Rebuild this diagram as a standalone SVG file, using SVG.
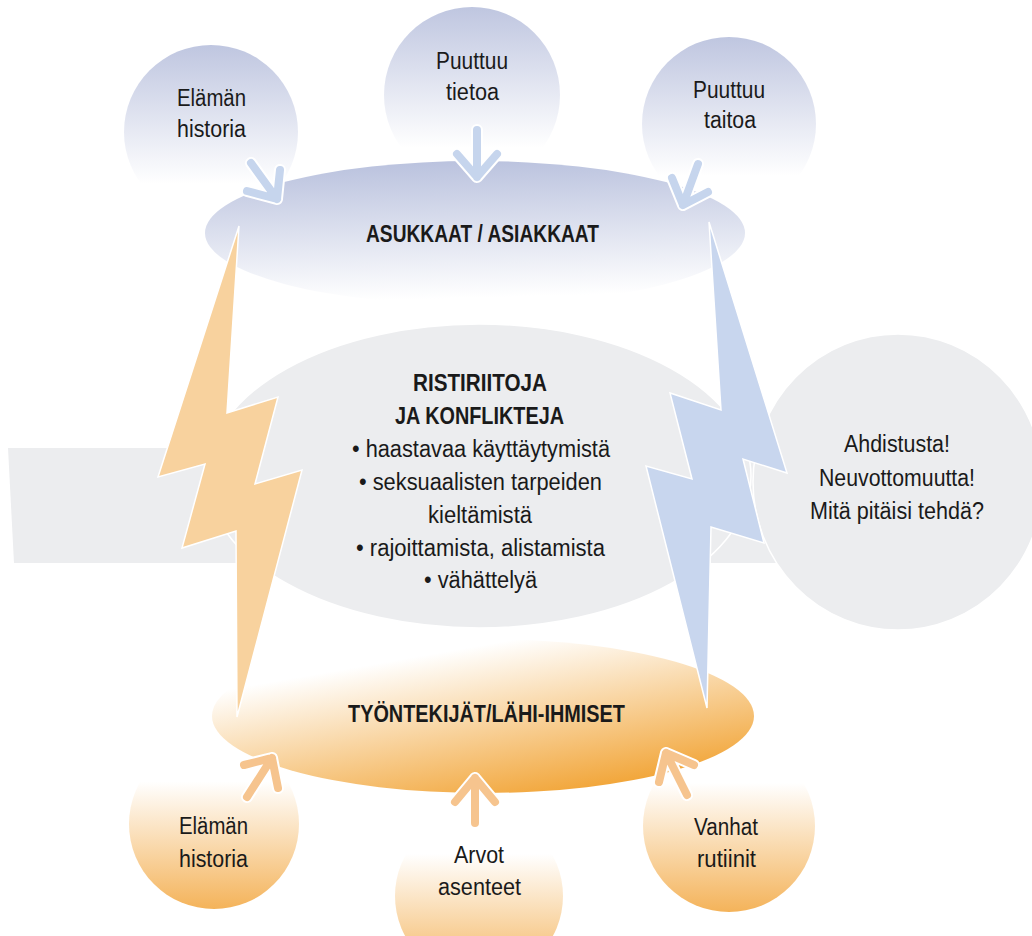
<svg xmlns="http://www.w3.org/2000/svg" width="1032" height="936" viewBox="0 0 1032 936">
<defs>
<linearGradient id="gTopCircle" x1="0" y1="0" x2="0" y2="1">
<stop offset="0" stop-color="#bfc6e0"/><stop offset="0.8" stop-color="#ffffff"/>
</linearGradient>
<linearGradient id="gTopEll" x1="0.4" y1="0" x2="0.5" y2="1">
<stop offset="0" stop-color="#bac2de"/><stop offset="0.95" stop-color="#ffffff"/>
</linearGradient>
<linearGradient id="gBotEll" x1="0.2" y1="0.1" x2="0.75" y2="1">
<stop offset="0.1" stop-color="#ffffff"/><stop offset="1" stop-color="#f1a12f"/>
</linearGradient>
<linearGradient id="gBotCircle" x1="0" y1="0" x2="0" y2="1">
<stop offset="0.25" stop-color="#ffffff"/><stop offset="1" stop-color="#f4b35a"/>
</linearGradient>
</defs>
<style>
.t{font-family:"Liberation Sans",Arial,sans-serif;font-size:23px;fill:#1a1a1a;text-anchor:start}
.b{font-weight:bold}
.grey{fill:#ecedef;stroke:#ffffff;stroke-width:1.5}
.aw{fill:none;stroke:#ffffff;stroke-width:12;stroke-linecap:round;stroke-linejoin:round}
.ab{fill:none;stroke:#c6d5ed;stroke-width:8;stroke-linecap:round;stroke-linejoin:round}
.ao{fill:none;stroke:#f6c48e;stroke-width:8;stroke-linecap:round;stroke-linejoin:round}
</style>

<g id="band">
<polygon points="8,448 790,448 790,563 14,563" fill="#ecedef"/>
</g>

<g id="top-circle-1">
<circle cx="211" cy="132" r="87" fill="url(#gTopCircle)"/>
<text class="t" x="177" y="106" textLength="69" lengthAdjust="spacingAndGlyphs">Elämän</text>
<text class="t" x="177" y="137" textLength="69" lengthAdjust="spacingAndGlyphs">historia</text>
</g>
<g id="top-circle-2">
<circle cx="472" cy="95" r="88" fill="url(#gTopCircle)"/>
<text class="t" x="436" y="69" textLength="72" lengthAdjust="spacingAndGlyphs">Puuttuu</text>
<text class="t" x="446" y="100" textLength="53" lengthAdjust="spacingAndGlyphs">tietoa</text>
</g>
<g id="top-circle-3">
<circle cx="729" cy="124" r="87" fill="url(#gTopCircle)"/>
<text class="t" x="693" y="98" textLength="72" lengthAdjust="spacingAndGlyphs">Puuttuu</text>
<text class="t" x="704" y="128" textLength="52" lengthAdjust="spacingAndGlyphs">taitoa</text>
</g>

<g id="asukkaat">
<ellipse cx="475" cy="233" rx="270" ry="72" fill="url(#gTopEll)"/>
<text class="t b" x="366" y="242" textLength="233" lengthAdjust="spacingAndGlyphs">ASUKKAAT / ASIAKKAAT</text>
</g>

<g id="ristiriitoja">
<ellipse cx="479" cy="476" rx="272" ry="152" class="grey"/>
<text class="t b" x="413" y="391" textLength="134" lengthAdjust="spacingAndGlyphs">RISTIRIITOJA</text>
<text class="t b" x="395" y="424" textLength="169" lengthAdjust="spacingAndGlyphs">JA KONFLIKTEJA</text>
<text class="t" x="352" y="457" textLength="258" lengthAdjust="spacingAndGlyphs">• haastavaa käyttäytymistä</text>
<text class="t" x="359" y="490" textLength="243" lengthAdjust="spacingAndGlyphs">• seksuaalisten tarpeiden</text>
<text class="t" x="428" y="523" textLength="104" lengthAdjust="spacingAndGlyphs">kieltämistä</text>
<text class="t" x="356" y="556" textLength="249" lengthAdjust="spacingAndGlyphs">• rajoittamista, alistamista</text>
<text class="t" x="424" y="588" textLength="113" lengthAdjust="spacingAndGlyphs">• vähättelyä</text>
</g>

<g id="ahdistusta">
<ellipse cx="898" cy="482" rx="145" ry="148" class="grey"/>
<text class="t" x="844" y="452" textLength="106" lengthAdjust="spacingAndGlyphs">Ahdistusta!</text>
<text class="t" x="819" y="486" textLength="156" lengthAdjust="spacingAndGlyphs">Neuvottomuutta!</text>
<text class="t" x="810" y="519" textLength="174" lengthAdjust="spacingAndGlyphs">Mitä pitäisi tehdä?</text>
</g>

<g id="bottom-circle-1">
<circle cx="214" cy="824" r="85" fill="url(#gBotCircle)"/>
<text class="t" x="179" y="834" textLength="69" lengthAdjust="spacingAndGlyphs">Elämän</text>
<text class="t" x="179" y="867" textLength="69" lengthAdjust="spacingAndGlyphs">historia</text>
</g>
<g id="bottom-circle-2">
<circle cx="479" cy="896" r="84" fill="url(#gBotCircle)"/>
<text class="t" x="454" y="863" textLength="50" lengthAdjust="spacingAndGlyphs">Arvot</text>
<text class="t" x="438" y="895" textLength="83" lengthAdjust="spacingAndGlyphs">asenteet</text>
</g>
<g id="bottom-circle-3">
<circle cx="729" cy="826" r="86" fill="url(#gBotCircle)"/>
<text class="t" x="694" y="835" textLength="64" lengthAdjust="spacingAndGlyphs">Vanhat</text>
<text class="t" x="697" y="867" textLength="59" lengthAdjust="spacingAndGlyphs">rutiinit</text>
</g>

<g id="tyontekijat">
<ellipse cx="483" cy="716" rx="271" ry="77" fill="url(#gBotEll)"/>
<text class="t b" x="348" y="722" textLength="277" lengthAdjust="spacingAndGlyphs">TYÖNTEKIJÄT/LÄHI-IHMISET</text>
</g>

<g id="connectors">
<polygon points="239,226 227,413 278,397 255,484 302,470 237,717 236,531 182,548 205,464 158,477" fill="#f8d29e" stroke="#ffffff" stroke-width="1.5" stroke-linejoin="miter"/>
<polygon points="709,222 787,473 743,459 764,543 711,527 707,708 646,466 692,479 670,393 721,410" fill="#c8d6ee" stroke="#ffffff" stroke-width="1.5" stroke-linejoin="miter"/>

<path class="aw" d="M251,163 L277,199 M247,191 L277,199 L280,170"/>
<path class="ab" d="M251,163 L277,199 M247,191 L277,199 L280,170"/>
<path class="aw" d="M477,130 L477,177 M457,154 L477,177 L497,154"/>
<path class="ab" d="M477,130 L477,177 M457,154 L477,177 L497,154"/>
<path class="aw" d="M698,164 L683,205 M672,178 L683,205 L708,192"/>
<path class="ab" d="M698,164 L683,205 M672,178 L683,205 L708,192"/>

<path class="aw" d="M247,797 L272,758 M244,765 L272,758 L278,788"/>
<path class="ao" d="M247,797 L272,758 M244,765 L272,758 L278,788"/>
<path class="aw" d="M475,823 L475,778 M455,802 L475,778 L495,802"/>
<path class="ao" d="M475,823 L475,778 M455,802 L475,778 L495,802"/>
<path class="aw" d="M687,795 L666,753 M694,765 L666,753 L659,782"/>
<path class="ao" d="M687,795 L666,753 M694,765 L666,753 L659,782"/>
</g>
</svg>
